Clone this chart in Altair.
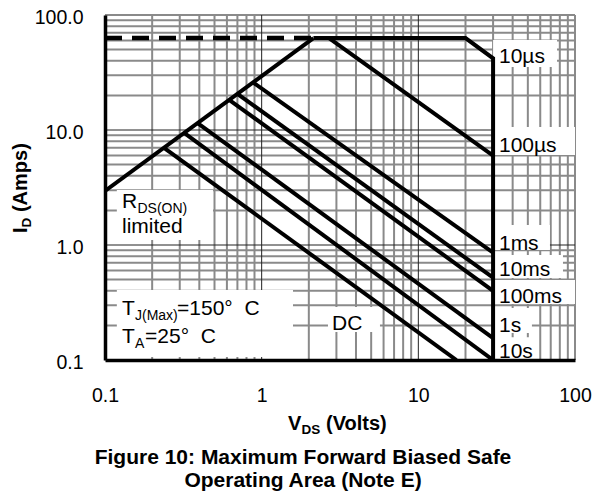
import altair as alt
import pandas as pd

FONT = "Liberation Sans, Arial, sans-serif"

# ---------------- data ----------------
x_tick_values = [0.1, 1, 10, 100]
y_tick_values = [0.1, 1, 10, 100]
grid_minor = [0.2, 0.3, 0.4, 0.5, 0.6, 0.7, 0.8, 0.9,
              2, 3, 4, 5, 6, 7, 8, 9,
              20, 30, 40, 50, 60, 70, 80, 90, 100]
grid_major = [1, 10]

# SOA boundary curves (V_DS in volts, I_D in amps)
rds_v = [0.1, 2.14];            rds_i = [2.95, 63]
us10_v = [2.14, 20, 30, 30];    us10_i = [63, 63, 42, 0.1]
us100_v = [2.69, 30];           us100_i = [63, 6.0]
ms1_v = [0.88, 30];             ms1_i = [26.0, 0.86]
ms10_v = [0.70, 30];            ms10_i = [20.6, 0.52]
ms100_v = [0.62, 30];           ms100_i = [18.3, 0.40]
s1_v = [0.39, 30];              s1_i = [11.5, 0.155]
s10_v = [0.32, 30];             s10_i = [9.45, 0.1]
dc_v = [0.238, 17.5];           dc_i = [7.0, 0.1]
dash_v = [0.1, 2.14];           dash_i = [63, 63]

# white label boxes (V1, V2, I1, I2)
box_v1 = [30, 30, 30, 30, 30, 30, 30, 2.65, 0.119, 0.119]
box_v2 = [76.8, 100, 69.2, 83.8, 100, 53.1, 58, 5.69, 0.489, 1.585]
box_i1 = [60.6, 10.6, 1.49, 0.819, 0.497, 0.283, 0.158, 0.289, 3.01, 0.406]
box_i2 = [35.3, 6.06, 0.905, 0.516, 0.307, 0.172, 0.1, 0.175, 1.105, 0.106]

NB = "\u00a0"
# annotation pieces: text, V anchor, I anchor, size, dx, dy
ann_text = ["10µs", "100µs", "1ms", "10ms", "100ms", "1s", "10s", "DC",
            "R", "DS(ON)", "limited",
            "T", "J(Max)", "=150°" + NB + NB + "C", "T", "A", "=25°" + NB + NB + "C"]
ann_v = [32.7, 32.7, 32.7, 32.7, 32.7, 32.7, 32.7, 2.81,
         0.1284, 0.1284, 0.1284,
         0.1284, 0.1284, 0.1284, 0.1284, 0.1284, 0.1284]
ann_i = [38.3, 6.44, 0.905, 0.537, 0.313, 0.175, 0.104, 0.182,
         2.10, 2.10, 1.26,
         0.246, 0.246, 0.246, 0.1406, 0.1406, 0.1406]
ann_size = [21, 21, 21, 21, 21, 21, 21, 21,
            21, 14, 21,
            21, 14, 21, 21, 14, 21]
ann_dx = [0, 0, 0, 0, 0, 0, 0, 0,
          0, 15.5, 0,
          0, 13, 55, 0, 13, 23]
ann_dy = [0, 0, 0, 0, 0, 0, 0, 0,
          0, 5, 0,
          0, 5, 0, 0, 5, 0]

# ---------------- layout ----------------
W, H = 470, 345
PAD_L, PAD_T = 105, 15
GRAY = "#8a8a8a"

xs = alt.Scale(type="log", domain=[0.1, 100], nice=False)
ys = alt.Scale(type="log", domain=[0.1, 100], nice=False)
x_axis = alt.Axis(values=x_tick_values, format="~g", title=None, ticks=False, grid=False,
                  domain=True, domainColor="black", domainWidth=3.5,
                  labelFont=FONT, labelFontSize=19.5, labelColor="black",
                  labelPadding=26, labelBaseline="top", labelFlush=False,
                  labelOverlap=False, zindex=1)
y_axis = alt.Axis(values=y_tick_values, format=".1f", title=None, ticks=False, grid=False,
                  domain=True, domainColor="black", domainWidth=3.5,
                  labelFont=FONT, labelFontSize=19.5, labelColor="black",
                  labelPadding=22, labelBaseline="middle", labelOffset=2,
                  labelFlush=False, labelOverlap=False, zindex=1)


def X(f):
    return alt.X(f, type="quantitative", scale=xs, axis=x_axis)


def Y(f):
    return alt.Y(f, type="quantitative", scale=ys, axis=y_axis)


layers = []

# grid
gmin = pd.DataFrame({"g": grid_minor})
gmaj = pd.DataFrame({"g": grid_major})
layers.append(alt.Chart(gmin).mark_rule(color=GRAY, strokeWidth=2).encode(x=X("g")))
layers.append(alt.Chart(gmin).mark_rule(color=GRAY, strokeWidth=2).encode(y=Y("g")))
layers.append(alt.Chart(gmaj).mark_rule(color="#222", strokeWidth=1).encode(x=X("g")))
layers.append(alt.Chart(gmaj).mark_rule(color="#222", strokeWidth=1).encode(y=Y("g")))

# white boxes
boxes = pd.DataFrame({"v1": box_v1, "v2": box_v2, "i1": box_i1, "i2": box_i2})
layers.append(alt.Chart(boxes).mark_rect(color="white").encode(
    x=X("v1"), x2="v2", y=Y("i1"), y2="i2"))

# curves
rows = []
for name, vs, is_ in [("RDS", rds_v, rds_i), ("10us", us10_v, us10_i),
                      ("100us", us100_v, us100_i), ("1ms", ms1_v, ms1_i),
                      ("10ms", ms10_v, ms10_i), ("100ms", ms100_v, ms100_i),
                      ("1s", s1_v, s1_i), ("10s", s10_v, s10_i), ("DC", dc_v, dc_i)]:
    for k, (v, i) in enumerate(zip(vs, is_)):
        rows.append({"series": name, "k": k, "V": v, "I": i})
curves = pd.DataFrame(rows)
layers.append(alt.Chart(curves).mark_line(color="black", strokeWidth=4, clip=True,
                                          strokeJoin="miter").encode(
    x=X("V"), y=Y("I"), detail="series:N", order="k:Q"))

dash = pd.DataFrame({"V": dash_v, "I": dash_i})
layers.append(alt.Chart(dash).mark_line(color="black", strokeWidth=4.5,
                                        strokeDash=[17, 10]).encode(x=X("V"), y=Y("I")))

# annotations
for t, v, i, s, dx, dy in zip(ann_text, ann_v, ann_i, ann_size, ann_dx, ann_dy):
    d = pd.DataFrame({"t": [t], "V": [v], "I": [i]})
    layers.append(alt.Chart(d).mark_text(align="left", baseline="alphabetic", font=FONT,
                                         fontSize=s, dx=dx, dy=dy, color="black").encode(
        x=X("V"), y=Y("I"), text="t:N"))

# titles and caption (page pixel positions relative to plot origin)
title_text = ["V", "DS", "(Volts)", "I", "D", "(Amps)",
              "Figure 10: Maximum Forward Biased Safe", "Operating Area (Note E)"]
title_px = [288, 301.5, 326, 27, 27, 27, 303, 303]
title_py = [430, 434, 430, 233, 233, 233, 464, 487]
title_size = [20, 13.5, 20, 20, 13.5, 20, 21, 21]
title_dx = [0, 0, 0, 0, 5.6, 20.9, 0, 0]
title_dy = [0, 0, 0, 0, 4, 0, 0, 0]
title_angle = [0, 0, 0, 270, 270, 270, 0, 0]
title_align = ["left", "left", "left", "left", "left", "left", "center", "center"]

for t, px, py, s, dx, dy, a, al in zip(title_text, title_px, title_py, title_size,
                                       title_dx, title_dy, title_angle, title_align):
    d = pd.DataFrame({"t": [t]})
    layers.append(alt.Chart(d).mark_text(align=al, baseline="alphabetic", font=FONT,
                                         fontSize=s, fontWeight="bold", dx=dx, dy=dy,
                                         angle=a, color="black").encode(
        x=alt.value(px - PAD_L), y=alt.value(py - PAD_T), text="t:N"))

chart = alt.layer(*layers).properties(
    width=W, height=H,
    autosize=alt.AutoSizeParams(type="none"),
    padding={"left": PAD_L, "top": PAD_T, "right": 602 - PAD_L - W, "bottom": 495 - PAD_T - H},
    background="white",
).configure_view(stroke=None)

chart.save("out.html", embed_options={"renderer": "svg", "actions": False})
